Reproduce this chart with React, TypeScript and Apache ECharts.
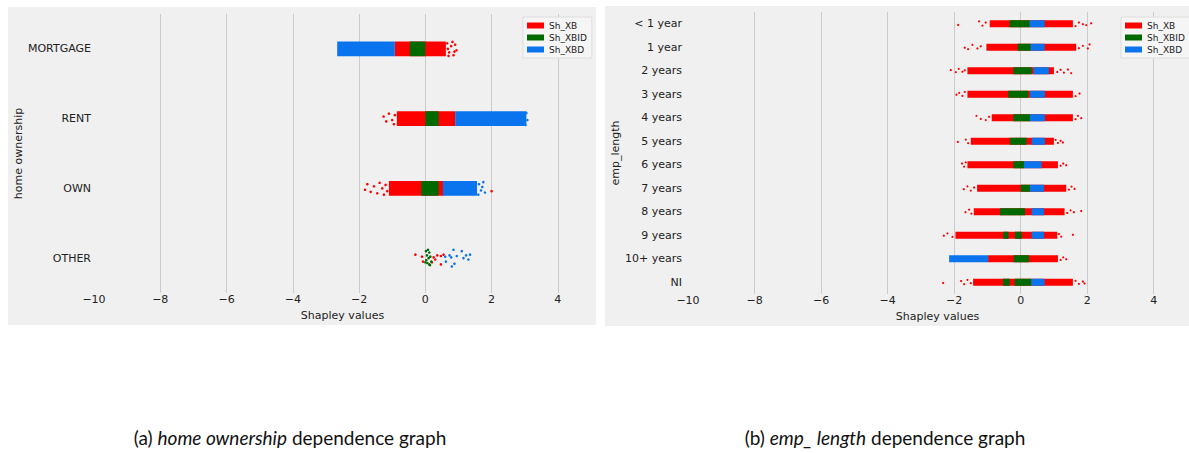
import React, { useEffect, useRef } from "react";
import * as echarts from "echarts";

// ---------- data ----------
const SERIES_NAMES = ["Sh_XB", "Sh_XBID", "Sh_XBD"];
const COLORS = ["#ff0000", "#006a00", "#0a74ee"];

const xTicksMin = -10;
const xTicksMax = 5;
const xTickInterval = 2;

// (a) home ownership
const homeCats = ["MORTGAGE", "RENT", "OWN", "OTHER"];
// dense strips: [start, end, categoryIndex]
const homeXB = [
  [-0.92, 0.62, 0],
  [-0.86, 0.9, 1],
  [-1.1, 0.55, 2],
];
const homeXBID = [
  [-0.47, 0.0, 0],
  [0.0, 0.4, 1],
  [-0.12, 0.4, 2],
];
const homeXBD = [
  [-2.66, -0.92, 0],
  [0.9, 3.05, 1],
  [0.53, 1.56, 2],
];
// sparse points: [value, categoryIndex, vertical jitter (fraction of band)]
const homeXBPts = [
  [0.66, 0, -0.08], [0.72, 0, 0.05], [0.78, 0, -0.04], [0.85, 0, 0.09], [0.9, 0, -0.06],
  [0.94, 0, 0.02], [0.7, 0, 0.1], [0.82, 0, -0.1], [0.68, 0, 0.0], [0.88, 0, 0.04],
  [-1.26, 1, -0.03], [-1.18, 1, 0.04], [-1.1, 1, -0.07], [-1.0, 1, 0.02], [-0.95, 1, 0.08], [-0.92, 1, -0.05],
  [-1.82, 2, 0.02], [-1.75, 2, -0.06], [-1.65, 2, 0.05], [-1.55, 2, -0.03], [-1.45, 2, 0.07],
  [-1.38, 2, -0.08], [-1.3, 2, 0.0], [-1.25, 2, 0.09], [-1.2, 2, -0.05], [-1.15, 2, 0.04], [2.0, 2, 0.04],
  [-0.3, 3, -0.05], [-0.1, 3, -0.02], [-0.07, 3, 0.05], [0.25, 3, -0.01], [0.36, 3, -0.04],
  [0.47, 3, -0.03], [0.47, 3, 0.09], [0.55, 3, -0.05], [0.2, 3, 0.06], [0.3, 3, 0.02],
];
const homeXBIDPts = [
  [0.02, 3, -0.1], [0.08, 3, -0.12], [0.12, 3, -0.08], [0.05, 3, -0.04], [0.15, 3, -0.02],
  [0.1, 3, 0.0], [0.03, 3, 0.03], [0.18, 3, 0.05], [0.06, 3, 0.07], [0.12, 3, 0.09],
  [0.0, 3, 0.06], [0.14, 3, 0.1],
];
const homeXBDPts = [
  [3.08, 1, 0.02], [3.05, 1, -0.08], [3.02, 1, 0.09],
  [1.62, 2, -0.06], [1.68, 2, 0.03], [1.72, 2, -0.02], [1.8, 2, 0.06], [1.6, 2, 0.09], [1.75, 2, -0.09],
  [0.6, 3, -0.02], [0.73, 3, -0.04], [0.78, 3, -0.01], [0.85, 3, -0.12], [0.88, 3, 0.08],
  [0.95, 3, -0.03], [1.1, 3, -0.1], [1.15, 3, 0.0], [1.23, 3, -0.04], [1.3, 3, 0.02],
  [1.35, 3, -0.05], [0.62, 3, 0.05], [0.8, 3, 0.12],
];

// (b) emp_length
const empCats = [
  "< 1 year", "1 year", "2 years", "3 years", "4 years", "5 years",
  "6 years", "7 years", "8 years", "9 years", "10+ years", "NI",
];
const empXB = [
  [-0.93, 1.57, 0], [-1.03, 1.67, 1], [-1.6, 1.0, 2], [-1.6, 1.57, 3],
  [-0.87, 1.57, 4], [-1.5, 1.0, 5], [-1.6, 1.12, 6], [-1.31, 1.37, 7],
  [-1.41, 1.32, 8], [-1.96, 1.1, 9], [-0.98, 1.12, 10], [-1.43, 1.57, 11],
];
const empXBID = [
  [-0.33, 0.27, 0], [-0.09, 0.3, 1], [-0.22, 0.33, 2], [-0.37, 0.23, 3],
  [-0.22, 0.28, 4], [-0.32, 0.18, 5], [-0.22, 0.1, 6], [0.0, 0.28, 7],
  [-0.62, 0.13, 8], [-0.52, -0.37, 9], [-0.17, 0.03, 9], [-0.21, 0.25, 10],
  [-0.53, -0.33, 11], [-0.18, 0.32, 11],
];
const empXBD = [
  [0.27, 0.72, 0], [0.3, 0.72, 1], [0.38, 0.85, 2], [0.28, 0.73, 3],
  [0.28, 0.73, 4], [0.33, 0.73, 5], [0.1, 0.63, 6], [0.28, 0.7, 7],
  [0.33, 0.7, 8], [0.33, 0.7, 9], [-2.15, -0.98, 10], [0.32, 0.72, 11],
];
const empXBPts = [
  [-1.88, 0, 0.05], [-1.25, 0, -0.1], [-1.15, 0, 0.08], [-1.05, 0, -0.05], [1.65, 0, 0.1],
  [1.75, 0, -0.05], [1.87, 0, 0.02], [1.97, 0, 0.06], [2.12, 0, -0.02],
  [-1.68, 1, 0.02], [-1.58, 1, 0.08], [-1.45, 1, -0.1], [-1.3, 1, 0.05], [-1.2, 1, -0.04],
  [1.75, 1, 0.04], [1.87, 1, -0.06], [2.02, 1, 0.05], [2.07, 1, -0.12],
  [-2.1, 2, -0.03], [-1.95, 2, 0.06], [-1.86, 2, -0.08], [-1.75, 2, 0.04], [-1.68, 2, -0.02],
  [1.1, 2, 0.05], [1.2, 2, -0.04], [1.3, 2, 0.08], [1.42, 2, -0.05], [1.52, 2, 0.1],
  [-1.93, 3, 0.02], [-1.85, 3, -0.06], [-1.75, 3, 0.07], [-1.68, 3, -0.1], [1.65, 3, 0.08], [1.77, 3, -0.03],
  [-1.33, 4, -0.08], [-1.2, 4, 0.05], [-1.05, 4, 0.1], [-0.95, 4, -0.04], [1.65, 4, 0.06], [1.72, 4, -0.08], [1.82, 4, 0.02],
  [-1.89, 5, 0.03], [-1.65, 5, -0.07], [-1.58, 5, 0.08], [1.05, 5, -0.06], [1.12, 5, 0.07], [1.2, 5, -0.02], [1.27, 5, 0.05],
  [-1.76, 6, -0.05], [-1.7, 6, 0.08], [-1.65, 6, -0.1], [1.2, 6, 0.04], [1.28, 6, -0.05], [1.37, 6, 0.02],
  [-1.71, 7, 0.04], [-1.6, 7, -0.08], [-1.5, 7, 0.1], [-1.4, 7, -0.03], [1.45, 7, 0.06], [1.53, 7, -0.07], [1.62, 7, 0.03],
  [-1.66, 8, 0.02], [-1.55, 8, -0.09], [-1.48, 8, 0.08], [1.4, 8, 0.05], [1.5, 8, -0.06], [1.6, 8, 0.02], [1.82, 8, -0.03],
  [-2.31, 9, 0.02], [-2.2, 9, -0.08], [-2.05, 9, 0.07], [1.15, 9, -0.05], [1.22, 9, 0.06], [1.57, 9, -0.02],
  [1.2, 10, 0.05], [1.28, 10, -0.06], [1.37, 10, 0.02],
  [-2.33, 11, 0.03], [-1.79, 11, -0.05], [-1.7, 11, 0.08], [-1.6, 11, -0.1], [-1.5, 11, 0.04],
  [1.65, 11, -0.06], [1.75, 11, 0.07], [1.87, 11, -0.03], [1.92, 11, 0.05],
];
const empXBIDPts: number[][] = [];
const empXBDPts: number[][] = [];

const captionA = ["(a) ", "home ownership", " dependence graph"];
const captionB = ["(b) ", "emp_ length", " dependence graph"];

// ---------- helpers ----------
const FONT = "DejaVu Sans";
const TEXT = "#222222";
const GRID_COLORS = [
  "rgba(0,0,0,0)", "#cbcbcb", "#cbcbcb", "#cbcbcb", "#cbcbcb",
  "#cbcbcb", "#cbcbcb", "#cbcbcb", "rgba(0,0,0,0)",
];

function stripRenderer(color: string, frac: number) {
  return (_p: any, api: any) => {
    const a = api.coord([api.value(0), api.value(2)]);
    const b = api.coord([api.value(1), api.value(2)]);
    const h = api.size([0, 1])[1] * frac;
    return {
      type: "rect",
      shape: { x: a[0], y: a[1] - h / 2, width: b[0] - a[0], height: h },
      style: { fill: color },
    };
  };
}

function dotRenderer(color: string, r: number) {
  return (_p: any, api: any) => {
    const c = api.coord([api.value(0), api.value(1)]);
    const band = api.size([0, 1])[1];
    return {
      type: "circle",
      shape: { cx: c[0], cy: c[1] + api.value(2) * band, r },
      style: { fill: color },
    };
  };
}

function xAxis(gridIndex: number, nameGap: number) {
  return {
    type: "value",
    gridIndex,
    min: xTicksMin,
    max: xTicksMax,
    interval: xTickInterval,
    name: "Shapley values",
    nameLocation: "middle",
    nameGap,
    nameTextStyle: { fontFamily: FONT, fontSize: 11, color: TEXT },
    axisLine: { show: false },
    axisTick: { show: false },
    axisLabel: {
      fontFamily: FONT,
      fontSize: 11,
      color: TEXT,
      margin: 1,
      showMaxLabel: false,
      formatter: (v: number) => (v === xTicksMax ? "" : String(v).replace("-", "\u2212")),
    },
    splitLine: { show: true, lineStyle: { color: GRID_COLORS, width: 1 } },
  };
}

function yAxis(gridIndex: number, cats: string[], name: string, nameGap: number, margin: number) {
  return {
    type: "category",
    gridIndex,
    data: cats,
    inverse: true,
    name,
    nameLocation: "middle",
    nameGap,
    nameTextStyle: { fontFamily: FONT, fontSize: 11, color: TEXT },
    axisLine: { show: false },
    axisTick: { show: false },
    splitLine: { show: false },
    axisLabel: { fontFamily: FONT, fontSize: 11, color: TEXT, margin },
  };
}

function buildSeries(
  idx: number,
  strips: number[][][],
  pts: number[][][],
  frac: number,
  r: number
) {
  const out: any[] = [];
  SERIES_NAMES.forEach((name, i) => {
    out.push({
      type: "custom",
      name,
      xAxisIndex: idx,
      yAxisIndex: idx,
      data: strips[i],
      encode: { x: [0, 1], y: 2 },
      renderItem: stripRenderer(COLORS[i], frac),
      itemStyle: { color: COLORS[i] },
      z: 2 + i,
      silent: true,
    });
    out.push({
      type: "custom",
      name,
      xAxisIndex: idx,
      yAxisIndex: idx,
      data: pts[i],
      encode: { x: 0, y: 1 },
      renderItem: dotRenderer(COLORS[i], r),
      itemStyle: { color: COLORS[i] },
      z: 2 + i,
      silent: true,
    });
  });
  return out;
}

function legend(left: number, top: number) {
  return {
    orient: "vertical",
    left,
    top,
    data: SERIES_NAMES,
    icon: "rect",
    itemWidth: 17,
    itemHeight: 6,
    itemGap: 1,
    padding: [3, 5, 3, 4],
    backgroundColor: "#f5f5f5",
    borderColor: "#dedede",
    borderWidth: 1,
    selectedMode: false,
    textStyle: { fontFamily: FONT, fontSize: 9, color: TEXT, lineHeight: 11 },
  };
}

function caption(x: number, parts: string[]) {
  return {
    type: "text",
    x,
    y: 437,
    z: 10,
    style: {
      text: `{n|${parts[0]}}{i|${parts[1]}}{n|${parts[2]}}`,
      align: "center",
      verticalAlign: "middle",
      textAlign: "center",
      textVerticalAlign: "middle",
      rich: {
        n: { fontFamily: "Lato", fontSize: 19, fill: "#111", color: "#111" },
        i: { fontFamily: "Lato", fontSize: 19, fontStyle: "italic", fill: "#111", color: "#111" },
      },
    },
  };
}

export default function App() {
  const ref = useRef<HTMLDivElement>(null);
  useEffect(() => {
    if (!ref.current) return;
    const chart = echarts.init(ref.current, undefined, { renderer: "svg" });
    const option: any = {
      animation: false,
      backgroundColor: "#ffffff",
      graphic: [
        { type: "rect", z: -10, silent: true, shape: { x: 8, y: 7, width: 588, height: 318 }, style: { fill: "#f0f0f0" } },
        { type: "rect", z: -10, silent: true, shape: { x: 605, y: 6, width: 584, height: 320 }, style: { fill: "#f0f0f0" } },
        caption(290, captionA),
        caption(885, captionB),
      ],
      grid: [
        { left: 94, top: 14, width: 497, height: 279 },
        { left: 688, top: 12, width: 499, height: 282 },
      ],
      xAxis: [xAxis(0, 14), xAxis(1, 15)],
      yAxis: [
        yAxis(0, homeCats, "home ownership", 70, 3),
        yAxis(1, empCats, "emp_length", 66, 6),
      ],
      legend: [legend(523, 17), legend(1121, 17)],
      series: [
        ...buildSeries(0, [homeXB, homeXBID, homeXBD], [homeXBPts, homeXBIDPts, homeXBDPts], 0.21, 1.3),
        ...buildSeries(1, [empXB, empXBID, empXBD], [empXBPts, empXBIDPts, empXBDPts], 0.3, 1.1),
      ],
    };
    chart.setOption(option);
    return () => chart.dispose();
  }, []);
  return (
    <div
      ref={ref}
      style={{ position: "absolute", left: 0, top: 0, width: 1189, height: 453 }}
    />
  );
}
